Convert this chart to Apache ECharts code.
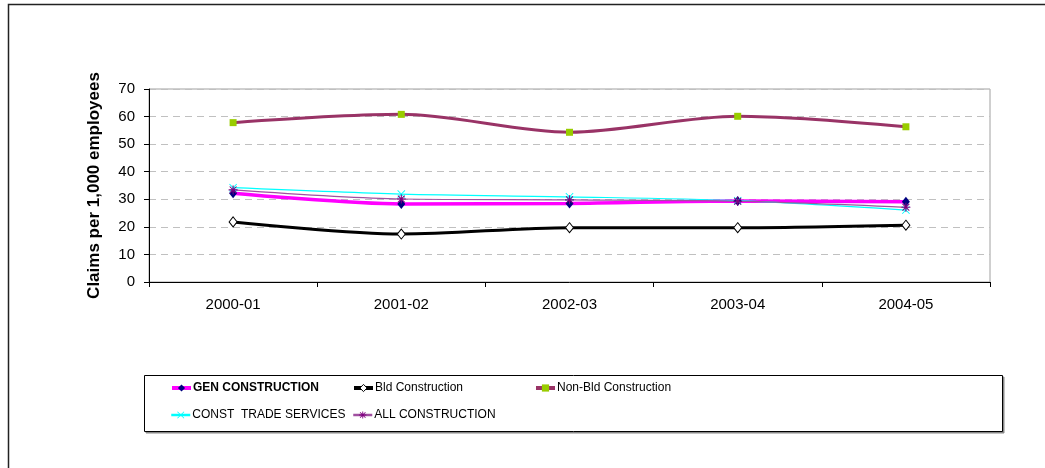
<!DOCTYPE html>
<html>
<head>
<meta charset="utf-8">
<script src="https://cdn.jsdelivr.net/npm/echarts@6/dist/echarts.min.js"></script>
<style>
  html, body { margin: 0; padding: 0; background: #fff; }
  #chart { width: 1045px; height: 468px; }
</style>
</head>
<body>
<div id="chart"></div>
<script>
// Claims per 1,000 employees by construction sector, 2000-01 to 2004-05
const years = ['2000-01', '2001-02', '2002-03', '2003-04', '2004-05'];

const genConstruction    = [32.2, 28.3, 28.5, 29.4, 29.1];
const bldConstruction    = [21.8, 17.4, 19.7, 19.7, 20.6];
const nonBldConstruction = [57.8, 60.8, 54.3, 60.1, 56.3];
const constTradeServices = [34.2, 31.9, 30.9, 29.5, 26.1];
const allConstruction    = [33.4, 30.1, 29.8, 29.3, 27.1];

const yTicks = [0, 10, 20, 30, 40, 50, 60, 70];

const FONT = "'Liberation Sans', Arial, sans-serif";

// filled cross and asterisk marker shapes
const crossPath = 'path://M0.8,0L5,4.2L9.2,0L10,0.8L5.8,5L10,9.2L9.2,10L5,5.8L0.8,10L0,9.2L4.2,5L0,0.8Z';
const starPath = 'path://M4.4,0H5.6V10H4.4Z M0,4.4H10V5.6H0Z ' +
                 'M0.8,1.6L1.6,0.8L9.2,8.4L8.4,9.2Z M8.4,0.8L9.2,1.6L1.6,9.2L0.8,8.4Z';

const names = ['GEN CONSTRUCTION', 'Bld Construction', 'Non-Bld Construction',
               'CONST  TRADE SERVICES', 'ALL CONSTRUCTION'];

// per-series look, shared by the plotted line and its legend entry
const styles = [
  { line: '#FF00FF', width: 3.5, legendWidth: 4, symbol: 'diamond', size: [8, 10], fill: '#000080', border: '#000080', bw: 0 },
  { line: '#000000', width: 3,   legendWidth: 4, symbol: 'diamond', size: [8, 10], fill: '#ffffff', border: '#000000', bw: 1 },
  { line: '#993366', width: 3,   legendWidth: 4, symbol: 'rect',    size: 7,       fill: '#99CC00', border: '#99CC00', bw: 0 },
  { line: '#00FFFF', width: 1.2, legendWidth: 2.5, symbol: crossPath, size: 8,     fill: '#00FFFF', border: '#00FFFF', bw: 0 },
  { line: '#A050A0', width: 1.2, legendWidth: 2.5, symbol: starPath,  size: 9,     fill: '#800080', border: '#800080', bw: 0 }
];
const seriesData = [genConstruction, bldConstruction, nonBldConstruction, constTradeServices, allConstruction];

const legendPos = [
  { left: 170, top: 382 },
  { left: 352, top: 382 },
  { left: 534, top: 382 },
  { left: 170, top: 409 },
  { left: 352, top: 409 }
];

const chart = echarts.init(document.getElementById('chart'), null, { renderer: 'canvas' });

const option = {
  backgroundColor: '#ffffff',
  animation: false,
  textStyle: { fontFamily: FONT, color: '#000' },
  graphic: [
    {
      type: 'rect', z: 0,
      shape: { x: 8.5, y: 4.5, width: 1100, height: 600 },
      style: { fill: 'none', stroke: '#222', lineWidth: 1.5 }
    },
    {
      type: 'rect', z: 0,
      shape: { x: 146, y: 377, width: 858, height: 56 },
      style: { fill: '#888', stroke: '#888', lineWidth: 1 }
    },
    {
      type: 'rect', z: 1,
      shape: { x: 144.5, y: 375.5, width: 858, height: 56 },
      style: { fill: '#fff', stroke: '#000', lineWidth: 1 }
    }
  ],
  legend: names.map((n, i) => ({
    data: [{
      name: n,
      itemStyle: { color: styles[i].fill, borderColor: styles[i].border, borderWidth: styles[i].bw },
      lineStyle: { color: styles[i].line, width: styles[i].legendWidth }
    }],
    left: legendPos[i].left,
    top: legendPos[i].top,
    orient: 'horizontal',
    itemWidth: 19,
    itemHeight: 9,
    padding: 0,
    selectedMode: false,
    z: 5,
    textStyle: {
      fontFamily: FONT,
      fontSize: 12,
      fontWeight: i === 0 ? 'bold' : 'normal',
      color: '#000',
      padding: [0, 0, 0, -3]
    }
  })),
  grid: {
    left: 149, top: 89, width: 841, height: 193,
    show: true, borderColor: '#a0a0a0', borderWidth: 1,
    backgroundColor: '#fff'
  },
  xAxis: {
    type: 'category',
    data: years,
    boundaryGap: true,
    axisLine: { show: true, lineStyle: { color: '#000', width: 1 } },
    axisTick: { show: true, length: 5, lineStyle: { color: '#000' } },
    axisLabel: { fontSize: 15, color: '#000', margin: 15, fontFamily: FONT },
    splitLine: { show: false }
  },
  yAxis: {
    type: 'value',
    min: yTicks[0],
    max: yTicks[yTicks.length - 1],
    interval: 10,
    name: 'Claims per 1,000 employees',
    nameLocation: 'middle',
    nameGap: 46,
    nameRotate: 90,
    nameTextStyle: { fontSize: 17, fontWeight: 'bold', color: '#000', fontFamily: FONT },
    axisLine: { show: true, lineStyle: { color: '#000', width: 1 } },
    axisTick: { show: true, length: 5, lineStyle: { color: '#000' } },
    axisLabel: { fontSize: 15, color: '#000', margin: 14, fontFamily: FONT },
    splitLine: { show: true, lineStyle: { color: '#c0c0c0', type: [7, 5], width: 1 } }
  },
  series: names.map((n, i) => ({
    name: n,
    type: 'line',
    data: seriesData[i],
    smooth: 0.3,
    symbol: styles[i].symbol,
    symbolSize: styles[i].size,
    lineStyle: { color: styles[i].line, width: styles[i].width },
    itemStyle: { color: styles[i].fill, borderColor: styles[i].border, borderWidth: styles[i].bw },
    z: 3
  }))
};

chart.setOption(option);
</script>
</body>
</html>
